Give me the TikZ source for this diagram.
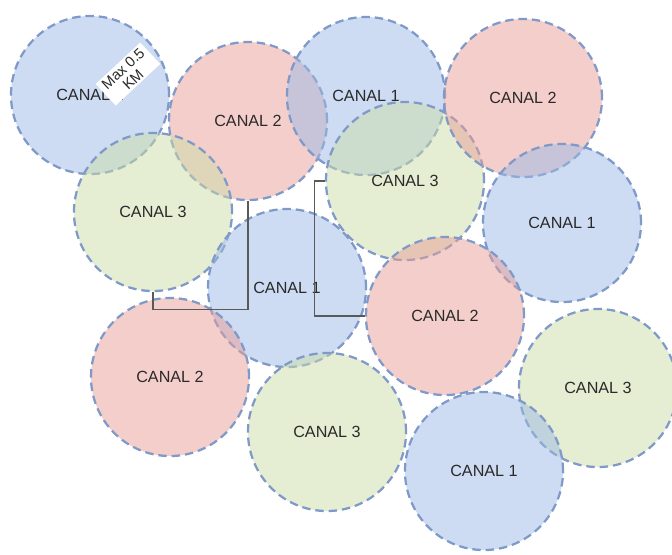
\documentclass[tikz,border=0pt]{standalone}
\usepackage{fontspec}
\setmainfont{Liberation Sans}
\usepackage{tikz}
\definecolor{cellblue}{HTML}{9BB9E5}
\definecolor{cellred}{HTML}{E99D97}
\definecolor{cellgreen}{HTML}{CBDCA8}
\definecolor{celledge}{HTML}{7F99C8}
\definecolor{celltext}{HTML}{2A2A2A}
\tikzset{
cell/.style={
		circle,
		draw=celledge,
		dash pattern=on 6pt off 3.5pt,
		line width=1.6pt,
		fill opacity=0.5,
		text opacity=1,
		text=celltext,
		minimum size=3.95cm,
		inner sep=0pt,
		font=\fontsize{11.5}{13}\selectfont
	},
chanone/.style={cell, fill=cellblue},
chantwo/.style={cell, fill=cellred},
chanthree/.style={cell, fill=cellgreen},
bracket/.style={draw=black!65, line width=0.8pt}
}

\begin{document}
\begin{tikzpicture}[x=0.025cm, y=-0.025cm]
			\useasboundingbox (0,0) rectangle (672,554);
			\node[chanone] (b1) at (90,95) {CANAL 1};
			\node[chantwo] (r1) at (248,121) {CANAL 2};
			\node[chanthree] (g1) at (153,212) {CANAL 3};
			\node[chanone] (b2) at (366,96) {CANAL 1};
			\node[chanthree] (g2) at (405,181) {CANAL 3};
			\node[chantwo] (r2) at (523,98) {CANAL 2};
			\node[chanone] (b3) at (562,223) {CANAL 1};
			\node[chanone] (b4) at (287,288) {CANAL 1};
			\node[chantwo] (r3) at (445,316) {CANAL 2};
			\node[chantwo] (r4) at (170,377) {CANAL 2};
			\node[chanthree] (g3) at (327,432) {CANAL 3};
			\node[chanthree] (g4) at (598,388) {CANAL 3};
			\node[chanone] (b5) at (484,471) {CANAL 1};
			% distance brackets
			\draw[bracket] (g1.south) -- ++(0,17) -| (r1.south);
			\draw[bracket] (g2.west) -- ++(-10,0) |- (r3.west);
			% range tag
			\node[fill=white, rotate=43, align=center, text=celltext, inner xsep=3pt, inner ysep=1.5pt,
				font=\fontsize{10.5}{10.5}\selectfont] (tag) at (128,74) {Max 0.5\\KM};
\end{tikzpicture}
\end{document}
